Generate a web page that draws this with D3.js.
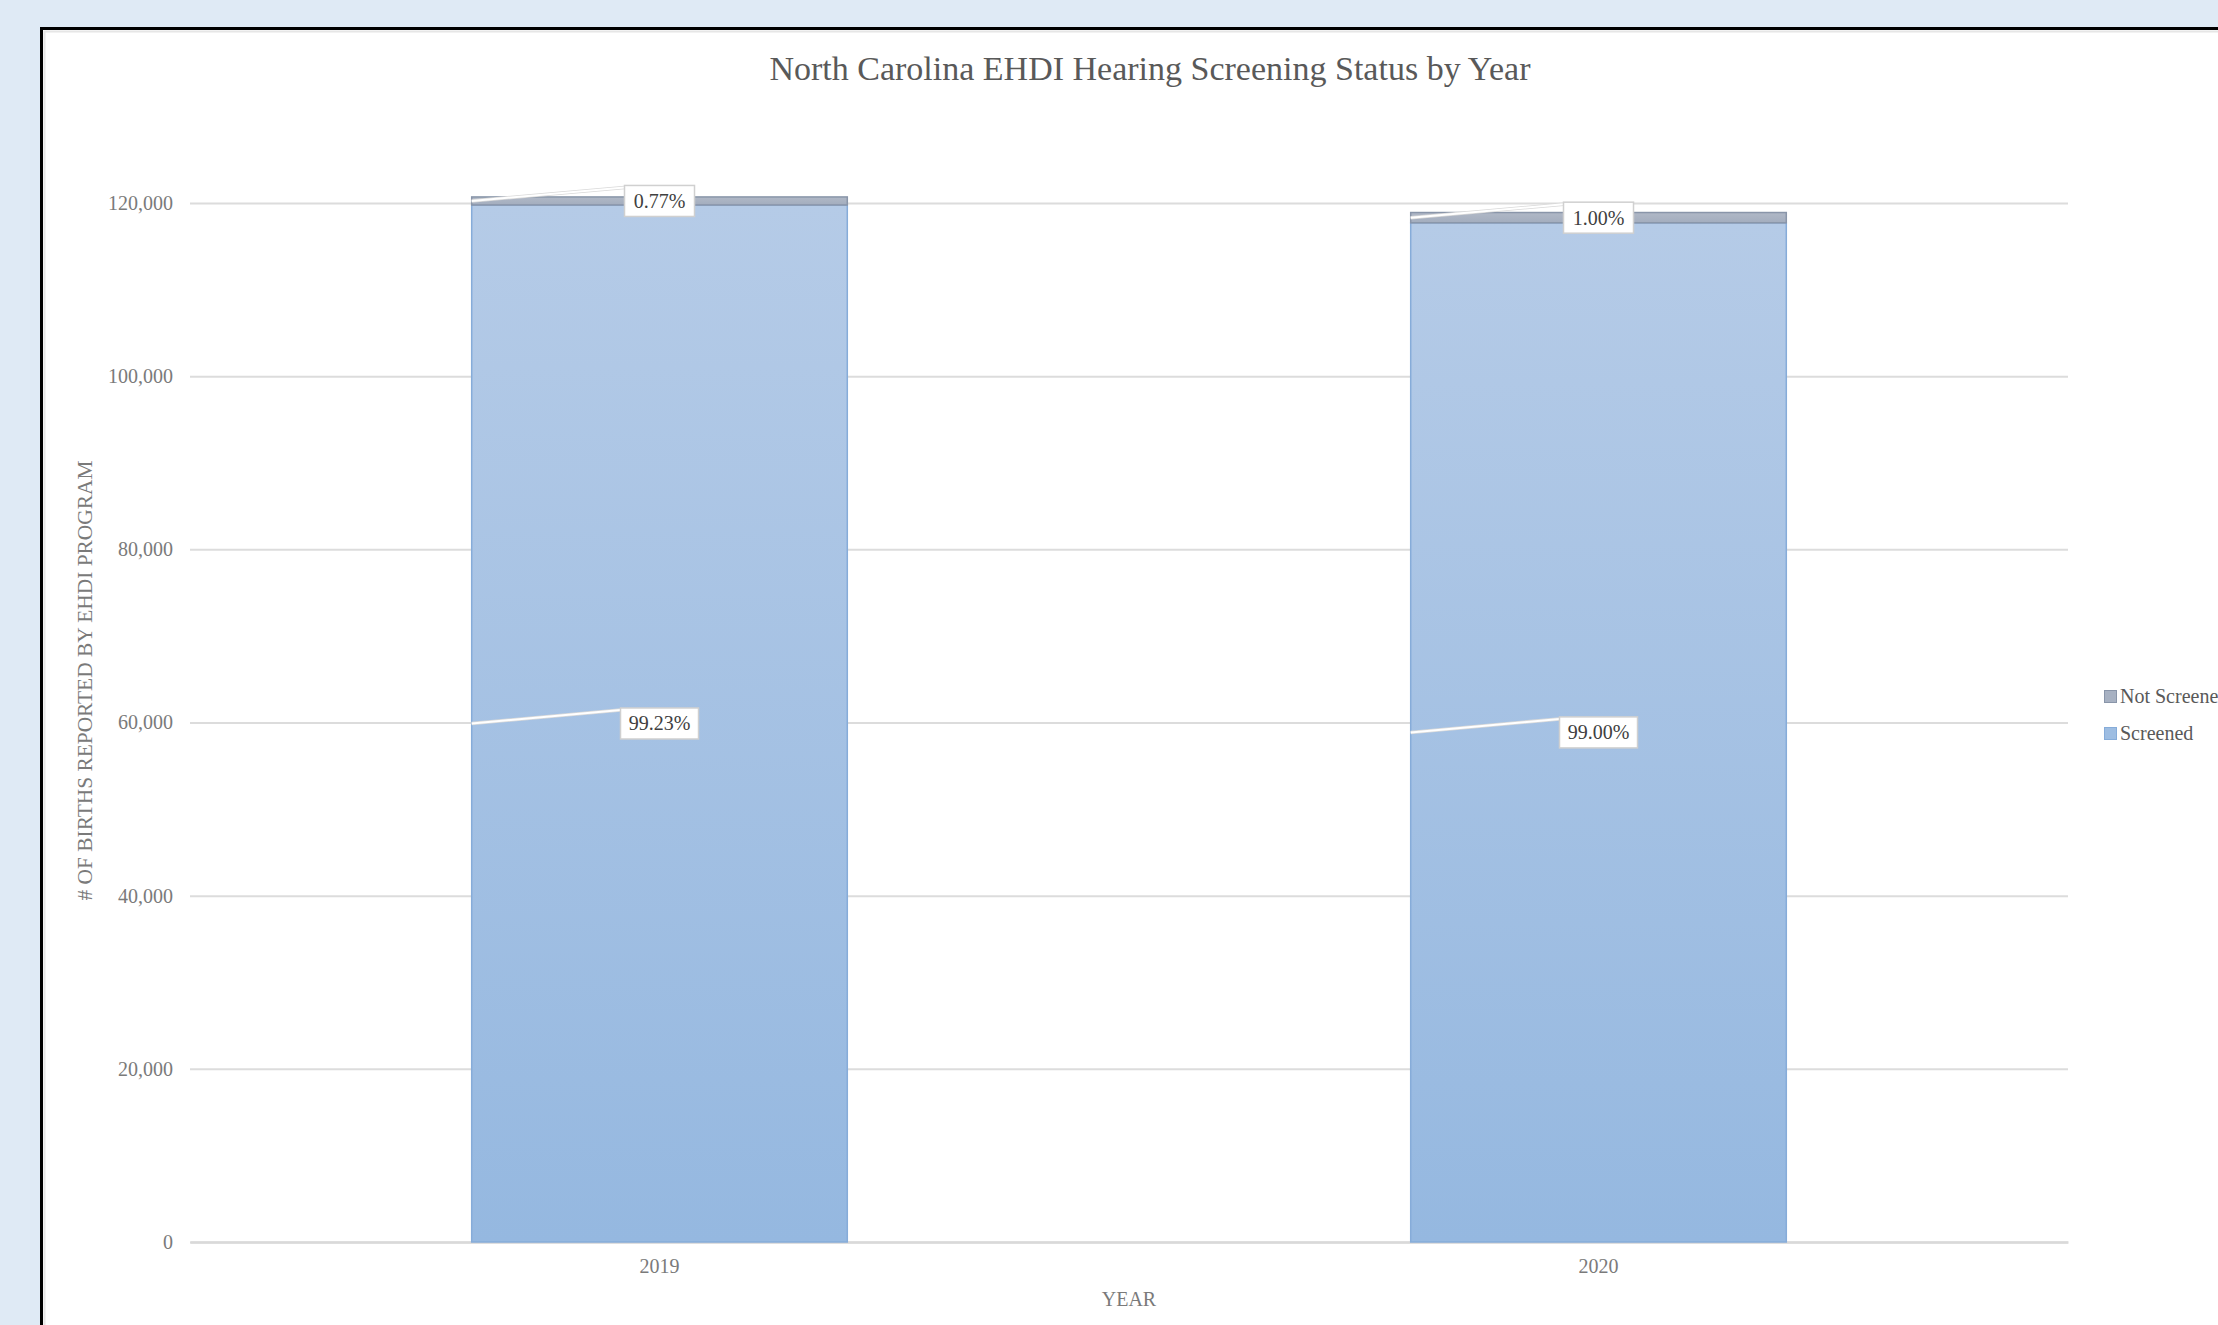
<!DOCTYPE html>
<html>
<head>
<meta charset="utf-8">
<script src="https://cdn.jsdelivr.net/npm/d3@7"></script>
<style>
  html, body { margin: 0; padding: 0; background: #dfeaf5; overflow: hidden; }
  svg { display: block; }
</style>
</head>
<body>
<div id="chart"></div>
<script>
// Data
const years = ["2019", "2020"];
const screened = [119771, 117711];
const notScreened = [929, 1189];
const screenedLabels = ["99.23%", "99.00%"];
const notScreenedLabels = ["0.77%", "1.00%"];
const yTicks = [0, 20000, 40000, 60000, 80000, 100000, 120000];
const seriesNames = ["Screened", "Not Screened"];

const graphCfg = {
  target: "#chart",
  title: "North Carolina EHDI Hearing Screening Status by Year",
  xTitle: "YEAR",
  yTitle: "# OF BIRTHS REPORTED BY EHDI PROGRAM",
  font: "'Liberation Serif', 'Times New Roman', serif",
};

const W = 2218;
const H = 1325;

// plot area
const plot = { left: 190, right: 2068, top: 203, bottom: 1242 };

//---------------------------------------------------------------------------------------

// SVG canvas

const svg = d3
  .select(graphCfg.target)
  .append("svg")
  .attr("width", W)
  .attr("height", H)
  .attr("viewBox", [0, 0, W, H])
  .style("font-family", graphCfg.font);

// page background + framed white panel (runs off the right and bottom edges)
svg.append("rect").attr("width", W).attr("height", H).attr("fill", "#dfeaf5");
svg.append("rect")
  .attr("x", 41.5).attr("y", 28.5)
  .attr("width", W).attr("height", H)
  .attr("fill", "#ffffff")
  .attr("stroke", "#000000")
  .attr("stroke-width", 3);
svg.append("rect")
  .attr("x", 44.5).attr("y", 31.5)
  .attr("width", W).attr("height", H)
  .attr("fill", "none")
  .attr("stroke", "#e6e6e6")
  .attr("stroke-width", 2);

// gradients for the bars
const defs = svg.append("defs");
const gradBlue = defs.append("linearGradient")
  .attr("id", "grad-screened")
  .attr("x1", 0).attr("y1", 0).attr("x2", 0).attr("y2", 1);
gradBlue.append("stop").attr("offset", "0%").attr("stop-color", "#b5cbe7");
gradBlue.append("stop").attr("offset", "100%").attr("stop-color", "#95b8e0");

const gradGrey = defs.append("linearGradient")
  .attr("id", "grad-notscreened")
  .attr("x1", 0).attr("y1", 0).attr("x2", 0).attr("y2", 1);
gradGrey.append("stop").attr("offset", "0%").attr("stop-color", "#b0b8c6");
gradGrey.append("stop").attr("offset", "100%").attr("stop-color", "#a3adbe");

//---------------------------------------------------------------------------------------

// Scales

const scaleX = d3
  .scaleBand()
  .domain(years)
  .range([plot.left, plot.right])
  .paddingInner(0.6)
  .paddingOuter(0.3);

const scaleY = d3
  .scaleLinear()
  .domain([0, 120000])
  .range([plot.bottom, plot.top]);

//---------------------------------------------------------------------------------------

// Title

svg.append("text")
  .attr("x", 1150)
  .attr("y", 80)
  .attr("text-anchor", "middle")
  .attr("font-size", 34)
  .attr("fill", "#595959")
  .text(graphCfg.title);

//---------------------------------------------------------------------------------------

// Y axis with gridlines

svg.append("g")
  .attr("transform", `translate(${plot.left}, 0)`)
  .call(
    d3.axisLeft(scaleY)
      .tickValues(yTicks)
      .tickSize(0)
      .tickPadding(17)
      .tickFormat(d3.format(","))
  )
  .call(g => g.select(".domain").remove())
  .call(g =>
    g.selectAll(".tick line")
      .attr("x2", plot.right - plot.left)
      .attr("stroke", "#dcdcdc")
      .attr("stroke-width", 2)
  )
  .call(g =>
    g.selectAll("text")
      .attr("font-family", graphCfg.font)
      .attr("font-size", 20)
      .attr("fill", "#7a7a7a")
  );

// Y axis title
svg.append("text")
  .attr("transform", `translate(92, ${(plot.top + plot.bottom) / 2 - 42}) rotate(-90)`)
  .attr("text-anchor", "middle")
  .attr("font-size", 21.4)
  .attr("fill", "#7a7a7a")
  .text(graphCfg.yTitle);

//---------------------------------------------------------------------------------------

// X axis

svg.append("g")
  .attr("transform", `translate(0, ${plot.bottom})`)
  .call(d3.axisBottom(scaleX).tickSize(0).tickPadding(17))
  .call(g => g.select(".domain").attr("stroke", "#d9d9d9").attr("stroke-width", 2.5))
  .call(g =>
    g.selectAll("text")
      .attr("font-family", graphCfg.font)
      .attr("font-size", 20)
      .attr("fill", "#7a7a7a")
  );

svg.append("text")
  .attr("x", (plot.left + plot.right) / 2)
  .attr("y", 1306)
  .attr("text-anchor", "middle")
  .attr("font-size", 20)
  .attr("fill", "#7a7a7a")
  .text(graphCfg.xTitle);

//---------------------------------------------------------------------------------------

// Stacked bars

const tableData = years.map((y, i) => ({
  year: y,
  "Screened": screened[i],
  "Not Screened": notScreened[i],
}));

const stacked = d3.stack().keys(seriesNames)(tableData);

const fills = { "Screened": "url(#grad-screened)", "Not Screened": "url(#grad-notscreened)" };
const strokes = { "Screened": "#86acd9", "Not Screened": "#8995a9" };

svg.append("g")
  .selectAll("g")
  .data(stacked)
  .join("g")
  .attr("fill", d => fills[d.key])
  .attr("stroke", d => strokes[d.key])
  .attr("stroke-width", 1.5)
  .selectAll("rect")
  .data(d => d)
  .join("rect")
  .attr("x", d => scaleX(d.data.year))
  .attr("y", d => scaleY(d[1]))
  .attr("width", scaleX.bandwidth())
  .attr("height", d => scaleY(d[0]) - scaleY(d[1]));

//---------------------------------------------------------------------------------------

// Data labels with leader lines

const labelTexts = { "Screened": screenedLabels, "Not Screened": notScreenedLabels };
const labelData = [];
stacked.forEach(s => {
  s.forEach((d, i) => {
    labelData.push({
      year: d.data.year,
      mid: (d[0] + d[1]) / 2,
      text: labelTexts[s.key][i],
    });
  });
});

const labels = svg.append("g")
  .selectAll("g")
  .data(labelData)
  .join("g")
  .attr("transform", d => `translate(${scaleX(d.year) + scaleX.bandwidth() / 2}, ${scaleY(d.mid)})`);

const boxW = d => d.text.length > 5 ? 78 : 70;
const boxH = 31;

// leader line: from left edge of the bar to top-left of the label box
labels.append("line")
  .attr("x1", -scaleX.bandwidth() / 2)
  .attr("y1", 0)
  .attr("x2", d => -boxW(d) / 2)
  .attr("y2", -boxH / 2 + 2)
  .attr("stroke", "#d9d9d9")
  .attr("stroke-width", 3.5);
labels.append("line")
  .attr("x1", -scaleX.bandwidth() / 2)
  .attr("y1", 0)
  .attr("x2", d => -boxW(d) / 2)
  .attr("y2", -boxH / 2 + 2)
  .attr("stroke", "#ffffff")
  .attr("stroke-width", 2);

labels.append("rect")
  .attr("x", d => -boxW(d) / 2)
  .attr("y", -boxH / 2)
  .attr("width", boxW)
  .attr("height", boxH)
  .attr("fill", "#ffffff")
  .attr("stroke", "#d0d0d0")
  .attr("stroke-width", 1.5);

labels.append("text")
  .attr("text-anchor", "middle")
  .attr("dy", "0.35em")
  .attr("font-size", 20)
  .attr("fill", "#404040")
  .text(d => d.text);

//---------------------------------------------------------------------------------------

// Legend (runs off the right edge, as in the original screenshot)

const legendValues = [
  { label: "Not Screened", fill: "#a7b1c2", stroke: "#8995a9" },
  { label: "Screened", fill: "#9dbde2", stroke: "#86acd9" },
];

const legend = svg.append("g")
  .selectAll("g")
  .data(legendValues)
  .join("g")
  .attr("transform", (d, i) => `translate(2104, ${696 + i * 37})`);

legend.append("rect")
  .attr("x", 0.5)
  .attr("y", -5.5)
  .attr("width", 12)
  .attr("height", 12)
  .attr("fill", d => d.fill)
  .attr("stroke", d => d.stroke)
  .attr("stroke-width", 1);

legend.append("text")
  .attr("x", 16)
  .attr("dy", "0.35em")
  .attr("font-size", 20)
  .attr("fill", "#595959")
  .text(d => d.label);
</script>
</body>
</html>
